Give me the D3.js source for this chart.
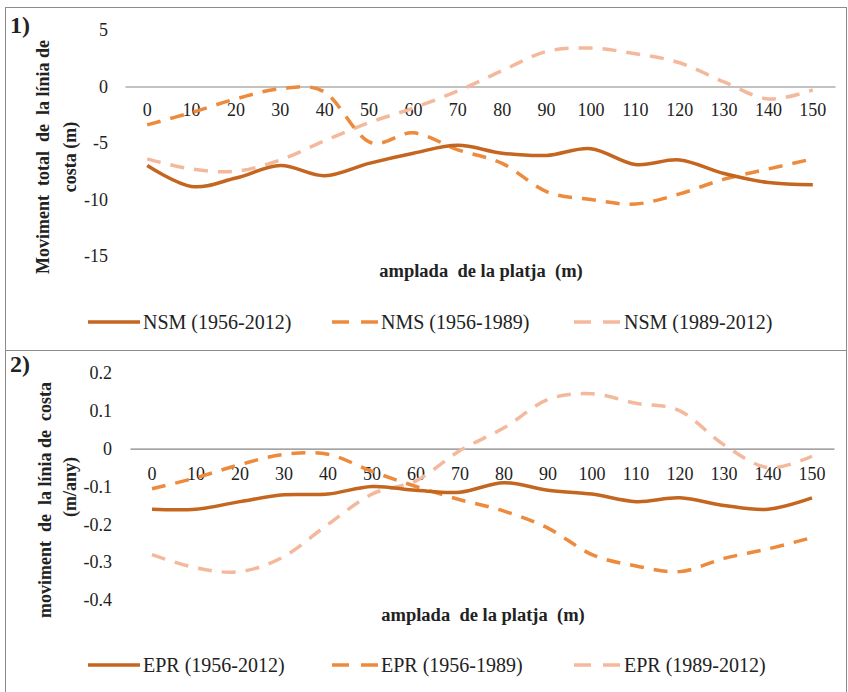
<!DOCTYPE html>
<html>
<head>
<meta charset="utf-8">
<script src="https://cdnjs.cloudflare.com/ajax/libs/d3/7.8.5/d3.min.js"></script>
<style>
  body { margin: 0; background: #fff; }
  text { font-family: "Liberation Serif", "Times New Roman", serif; fill: #222; white-space: pre; }
</style>
</head>
<body>
<div id="chart"></div>
<script>
// categories (amplada de la platja, m)
const categories = [0, 10, 20, 30, 40, 50, 60, 70, 80, 90, 100, 110, 120, 130, 140, 150];

// panel 1: moviment total (m)
const nsm5612 = [-7.0, -8.85, -8.1, -7.0, -7.9, -6.8, -5.9, -5.2, -5.9, -6.1, -5.5, -6.9, -6.5, -7.7, -8.5, -8.7];
const nms5689 = [-3.4, -2.3, -1.1, -0.2, -0.5, -4.9, -4.1, -5.6, -6.8, -9.3, -10.0, -10.4, -9.5, -8.2, -7.3, -6.4];
const nsm8912 = [-6.4, -7.3, -7.5, -6.5, -4.8, -3.2, -1.9, -0.4, 1.4, 3.1, 3.4, 2.9, 2.1, 0.4, -1.1, -0.3];
const ticks1 = [5, 0, -5, -10, -15];
const names1 = ["NSM (1956-2012)", "NMS (1956-1989)", "NSM (1989-2012)"];

// panel 2: moviment (m/any)
const epr5612 = [-0.16, -0.16, -0.14, -0.122, -0.12, -0.10, -0.11, -0.115, -0.09, -0.11, -0.12, -0.14, -0.13, -0.15, -0.16, -0.13];
const epr5689 = [-0.106, -0.077, -0.042, -0.015, -0.015, -0.06, -0.10, -0.135, -0.165, -0.21, -0.28, -0.31, -0.325, -0.29, -0.265, -0.235];
const epr8912 = [-0.28, -0.315, -0.325, -0.285, -0.2, -0.12, -0.085, -0.005, 0.055, 0.13, 0.145, 0.12, 0.10, 0.01, -0.05, -0.02];
const ticks2 = [0.2, 0.1, 0, -0.1, -0.2, -0.3, -0.4];
const names2 = ["EPR (1956-2012)", "EPR (1956-1989)", "EPR (1989-2012)"];

const W = 848, H = 692;
const colors = ["#c4661f", "#ee8a3c", "#f4b99c"];
const dashes = [null, "14,10", "14,10"];

const svg = d3.select("#chart").append("svg")
  .attr("width", W).attr("height", H);

function drawPanel(cfg) {
  const g = svg.append("g");

  // marc
  g.append("rect")
    .attr("x", 5.5).attr("y", cfg.top + 0.5)
    .attr("width", 841).attr("height", cfg.height)
    .attr("fill", "none").attr("stroke", "#8c8c8c");

  const x = d3.scaleBand()
    .domain(categories)
    .range(cfg.xRange);

  const y = d3.scaleLinear()
    .domain([d3.min(cfg.ticks), d3.max(cfg.ticks)])
    .range(cfg.yRange);

  // eix Y (només etiquetes)
  const gy = g.append("g")
    .attr("transform", `translate(${cfg.yLabelX},0)`)
    .call(d3.axisLeft(y).tickValues(cfg.ticks).tickSize(0).tickPadding(0)
      .tickFormat(d => d === 0 ? "0" : String(d)));
  gy.select(".domain").remove();
  gy.selectAll("text")
    .style("font-family", "Liberation Serif")
    .style("font-size", "18px")
    .attr("fill", "#222");

  // eix X sobre el zero
  const gx = g.append("g")
    .attr("transform", `translate(0,${y(0)})`)
    .call(d3.axisBottom(x).tickSize(0).tickPadding(0).tickSizeOuter(0));
  gx.select(".domain").attr("stroke", "#858585").attr("stroke-width", 1.2);
  gx.selectAll("text")
    .attr("y", cfg.xLabelDy)
    .attr("dy", "0.35em")
    .style("font-family", "Liberation Serif")
    .style("font-size", "18px")
    .attr("fill", "#222");

  // línies
  const line = d3.line()
    .x((d, i) => x(categories[i]) + x.bandwidth() / 2)
    .y(d => y(d))
    .curve(d3.curveCardinal.tension(0));

  [2, 1, 0].forEach(j => { // la sòlida a sobre
    g.append("path")
      .datum(cfg.series[j])
      .attr("d", line)
      .attr("fill", "none")
      .attr("stroke", colors[j])
      .attr("stroke-width", 3.5)
      .attr("stroke-dasharray", dashes[j]);
  });

  // títols
  g.append("text")
    .attr("x", 10).attr("y", cfg.top + cfg.numDy)
    .style("font-size", "24px").style("font-weight", "bold")
    .text(cfg.num);

  cfg.yTitle.forEach(t => {
    g.append("text")
      .attr("transform", `translate(${t.x},${t.y}) rotate(-90)`)
      .attr("text-anchor", "middle").attr("dy", "0.35em")
      .style("font-size", "18px").style("font-weight", "bold")
      .text(t.text);
  });

  g.append("text")
    .attr("x", cfg.xTitle.x).attr("y", cfg.xTitle.y)
    .attr("text-anchor", "middle").attr("dy", "0.35em")
    .style("font-size", "18.5px").style("font-weight", "bold")
    .text("amplada  de la platja  (m)");

  // llegenda
  const legX = [[88, 140], [332, 378], [574, 621]];
  cfg.names.forEach((n, i) => {
    g.append("line")
      .attr("x1", legX[i][0]).attr("x2", legX[i][1])
      .attr("y1", cfg.legendY).attr("y2", cfg.legendY)
      .attr("stroke", colors[i]).attr("stroke-width", 3.5)
      .attr("stroke-dasharray", i === 0 ? null : "17,12");
    g.append("text")
      .attr("x", legX[i][1] + 3).attr("y", cfg.legendY)
      .attr("dy", "0.35em")
      .style("font-size", "20px")
      .text(n);
  });
}

drawPanel({
  top: 7, height: 343, num: "1)", numDy: 26,
  xRange: [125, 835], yRange: [256, 30], yLabelX: 108, xLabelDy: 23,
  ticks: ticks1, series: [nsm5612, nms5689, nsm8912], names: names1,
  yTitle: [{ x: 43, y: 157, text: "Moviment  total  de  la línia de" },
           { x: 70, y: 157, text: "costa (m)" }],
  xTitle: { x: 481, y: 271 }, legendY: 322
});

drawPanel({
  top: 350, height: 345, num: "2)", numDy: 22,
  xRange: [130, 834], yRange: [600, 373], yLabelX: 112, xLabelDy: 25,
  ticks: ticks2, series: [epr5612, epr5689, epr8912], names: names2,
  yTitle: [{ x: 45, y: 500, text: "moviment  de  la línia de  costa" },
           { x: 70, y: 487, text: "(m/any)" }],
  xTitle: { x: 483, y: 615 }, legendY: 665
});
</script>
</body>
</html>
